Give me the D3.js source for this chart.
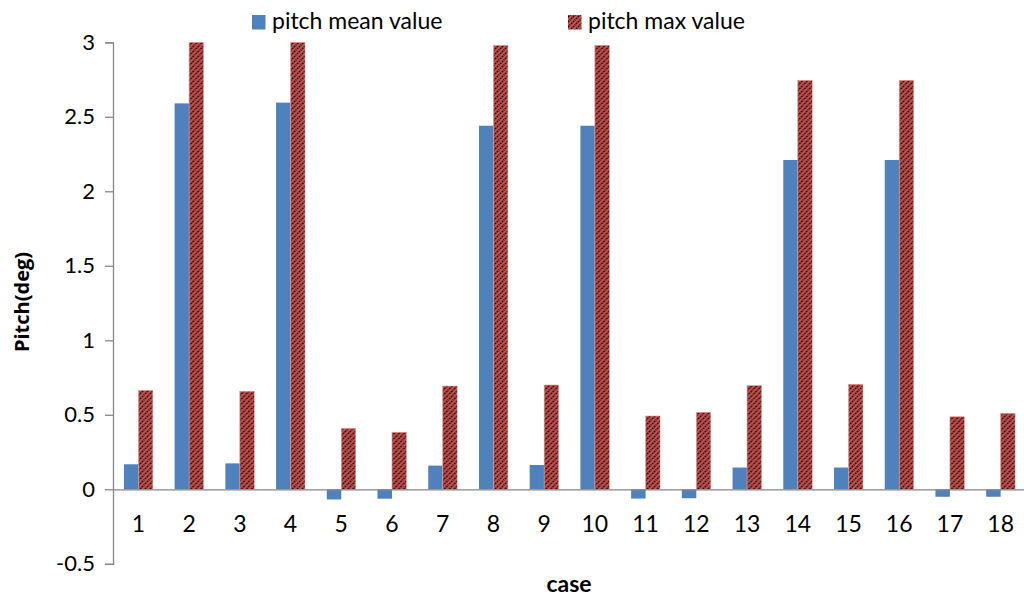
<!DOCTYPE html>
<html>
<head>
<meta charset="utf-8">
<script src="https://cdn.jsdelivr.net/npm/d3@7"></script>
<style>
  html, body { margin: 0; padding: 0; background: #fff; }
  svg { display: block; }
  text { fill: #000; }
</style>
</head>
<body>
<svg id="chart" width="1024" height="601" font-family="Lato, 'Open Sans', sans-serif"></svg>
<script>
// Pitch per test case
const cases = ["1","2","3","4","5","6","7","8","9","10","11","12","13","14","15","16","17","18"];
const pitchMean = [0.168, 2.59, 0.174, 2.595, -0.068, -0.063, 0.159, 2.44, 0.163, 2.44, -0.062, -0.06, 0.146, 2.21, 0.146, 2.21, -0.05, -0.05];
const pitchMax  = [0.664, 3.0, 0.658, 3.0, 0.409, 0.383, 0.693, 2.98, 0.70, 2.98, 0.492, 0.517, 0.696, 2.745, 0.705, 2.745, 0.487, 0.51];
const seriesNames = ["pitch mean value", "pitch max value"];
const yTicks = [-0.5, 0, 0.5, 1, 1.5, 2, 2.5, 3];

const svg = d3.select("#chart");
const plotLeft = 113, plotRight = 1026, plotTop = 42.3, plotBottom = 563.8;

const x = d3.scaleBand().domain(cases).range([plotLeft, plotRight]).paddingInner(0.43).paddingOuter(0.215);
const xs = d3.scaleBand().domain([0, 1]).range([0, x.bandwidth()]);
const y = d3.scaleLinear().domain([-0.5, 3]).range([plotBottom, plotTop]);

// hatch fill for the max series
const defs = svg.append("defs");
const pat = defs.append("pattern")
  .attr("id", "hatch").attr("patternUnits", "userSpaceOnUse")
  .attr("width", 5).attr("height", 5);
pat.append("rect").attr("width", 5).attr("height", 5).attr("fill", "#C9514E");
pat.append("path")
  .attr("d", "M-1,6 L6,-1 M-1,1 L1,-1 M4,6 L6,4")
  .attr("stroke", "#1a0808").attr("stroke-width", 1.5).attr("stroke-dasharray", "2,0.7");

// bars
const g = svg.append("g");
const rows = cases.map((c, i) => ({ c, v: [pitchMean[i], pitchMax[i]] }));
const grp = g.selectAll("g.case").data(rows).join("g")
  .attr("transform", d => `translate(${x(d.c)},0)`);
grp.selectAll("rect").data(d => d.v.map((v, k) => ({ v, k }))).join("rect")
  .attr("x", d => xs(d.k))
  .attr("width", xs.bandwidth())
  .attr("y", d => Math.min(y(d.v), y(0)))
  .attr("height", d => Math.abs(y(d.v) - y(0)))
  .attr("fill", d => d.k === 0 ? "#4F81BD" : "url(#hatch)")
  .attr("stroke", d => d.k === 0 ? "none" : "#e3a09d")
  .attr("stroke-width", 0.6);

// y axis
const yAxis = svg.append("g").attr("transform", `translate(${plotLeft},0)`)
  .call(d3.axisLeft(y).tickValues(yTicks).tickSize(8).tickPadding(10).tickFormat(d => String(d)));
yAxis.select(".domain").attr("stroke", "#868686").attr("stroke-width", 1.3);
yAxis.selectAll(".tick line").attr("stroke", "#868686").attr("stroke-width", 1.3);
yAxis.selectAll(".tick text").attr("font-size", 22).attr("font-family", "Lato, sans-serif").attr("fill", "#000");

// x axis along zero
const xAxis = svg.append("g").attr("transform", `translate(0,${y(0)})`)
  .call(d3.axisBottom(x).tickSize(0).tickPadding(26));
xAxis.select(".domain").attr("stroke", "#868686").attr("stroke-width", 1.3);
xAxis.selectAll(".tick text").attr("font-size", 23).attr("font-family", "Lato, sans-serif").attr("fill", "#000");

// axis titles
svg.append("text").attr("x", 569).attr("y", 592).attr("text-anchor", "middle")
  .attr("font-size", 23).attr("font-weight", "bold").text("case");
svg.append("text").attr("transform", "translate(29,302) rotate(-90)").attr("text-anchor", "middle")
  .attr("font-family", "'Open Sans', sans-serif")
  .attr("font-size", 20).attr("font-weight", "bold").text("Pitch(deg)");

// legend
const legendX = [252, 568];
const lg = svg.append("g");
seriesNames.forEach((name, k) => {
  lg.append("rect").attr("x", legendX[k]).attr("y", 15).attr("width", 13.5).attr("height", 14.5)
    .attr("fill", k === 0 ? "#4F81BD" : "url(#hatch)");
  lg.append("text").attr("x", legendX[k] + 20).attr("y", 29).attr("font-size", 23).text(name);
});
</script>
</body>
</html>
